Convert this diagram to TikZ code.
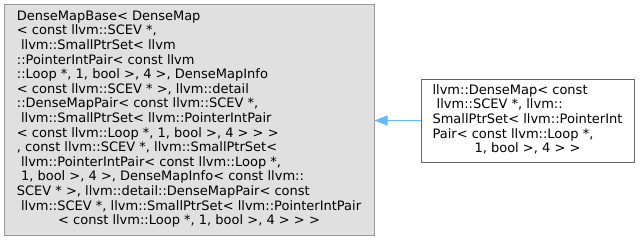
\documentclass[tikz,border=0pt]{standalone}
\usepackage{fontspec}
\setmainfont{DejaVu Sans}
\usetikzlibrary{arrows.meta}

\definecolor{basefill}{HTML}{E0E0E0}
\definecolor{baseline}{HTML}{999999}
\definecolor{nodeline}{HTML}{666666}
\definecolor{edgeblue}{HTML}{63B8FF}

\begin{document}
\begin{tikzpicture}
      [x=1pt, y=-1pt,
      every node/.style={inner sep=0pt, line width=1pt,
        font=\fontsize{13}{14.6}\selectfont},
      base/.style={draw=baseline, fill=basefill, minimum width=370pt, minimum height=231pt},
      derived/.style={draw=nodeline, fill=white, minimum width=213pt, minimum height=83pt},
      inherit/.style={draw=edgeblue, line width=1pt, {Triangle[length=13pt,width=10pt]}-},
      ]
      \useasboundingbox (0,0) rectangle (640,241);
      \node[base] (densemapbase) at (189,119.5) {\begin{tabular}{@{}l@{}}
        DenseMapBase< DenseMap\\
        < const llvm::SCEV *,\\
        \ llvm::SmallPtrSet< llvm\\
        ::PointerIntPair< const llvm\\
        ::Loop *, 1, bool >, 4 >, DenseMapInfo\\
        < const llvm::SCEV * >, llvm::detail\\
        ::DenseMapPair< const llvm::SCEV *,\\
        \ llvm::SmallPtrSet< llvm::PointerIntPair\\
        < const llvm::Loop *, 1, bool >, 4 > > >\\
        , const llvm::SCEV *, llvm::SmallPtrSet<\\
        \ llvm::PointerIntPair< const llvm::Loop *,\\
        \ 1, bool >, 4 >, DenseMapInfo< const llvm::\\
        SCEV * >, llvm::detail::DenseMapPair< const\\
        \ llvm::SCEV *, llvm::SmallPtrSet< llvm::PointerIntPair\\
        \multicolumn{1}{@{}c@{}}{< const llvm::Loop *, 1, bool >, 4 > > >}
      \end{tabular}};
      \node[derived] (densemap) at (527.5,120.5) {\begin{tabular}{@{}l@{}}
        llvm::DenseMap< const\\
        \ llvm::SCEV *, llvm::\\
        SmallPtrSet< llvm::PointerInt\\
        Pair< const llvm::Loop *,\\
        \multicolumn{1}{@{}c@{}}{1, bool >, 4 > >}
      \end{tabular}};
      \draw[inherit] (densemapbase.east |- densemap.west) -- (densemap.west);
\end{tikzpicture}
\end{document}
